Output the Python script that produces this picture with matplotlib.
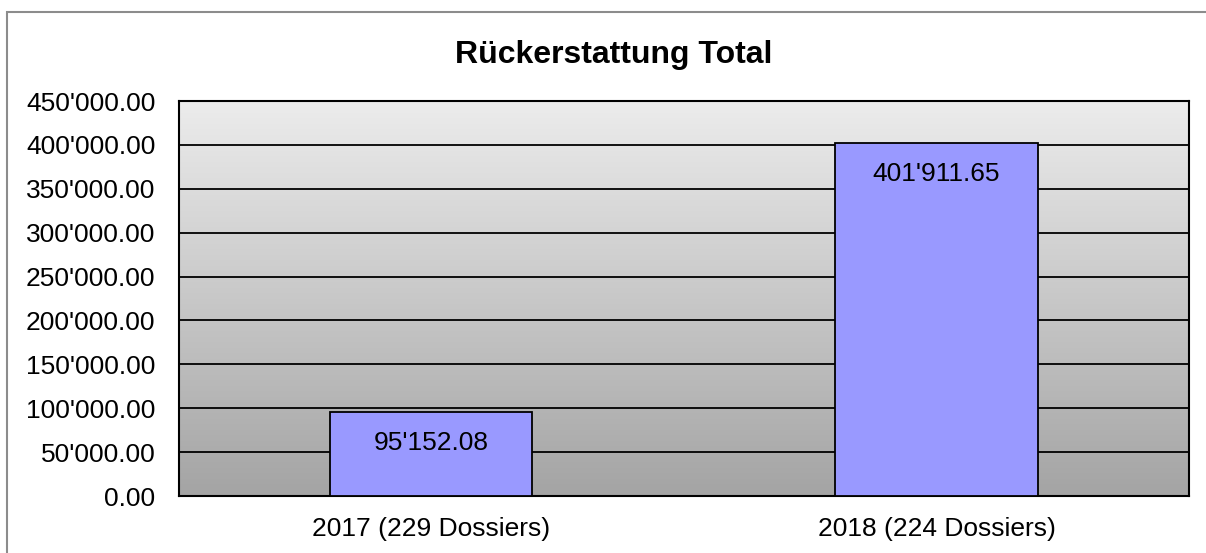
import numpy as np
import matplotlib
matplotlib.use("Agg")
import matplotlib.pyplot as plt
from matplotlib.patches import Rectangle
from matplotlib.ticker import FuncFormatter

plt.rcParams['font.family'] = ['Liberation Sans', 'DejaVu Sans']

categories = ["2017 (229 Dossiers)", "2018 (224 Dossiers)"]
values = [95152.08, 401911.65]
title = "Rückerstattung Total"


def swiss(v, pos=None):
    return f"{v:,.2f}".replace(",", "'")


fig = plt.figure(figsize=(12.06, 5.53), dpi=100)
# outer frame (only top/left visible, runs off the image)
fig.patches.append(Rectangle((7 / 1206, -0.1), 1.2, 1 - 12 / 553 + 0.1,
                             transform=fig.transFigure, fill=False,
                             edgecolor='#8c8c8c', linewidth=1.5))

ax = fig.add_axes([179 / 1206, 1 - 496 / 553, 1010 / 1206, 395 / 553])
ax.set_xlim(-0.5, 1.5)
ax.set_ylim(0, 450000)

# gradient background
grad = np.linspace(0, 1, 256).reshape(-1, 1)
cmap = matplotlib.colors.LinearSegmentedColormap.from_list('bg', ['#a4a4a4', '#ececec'])
ax.imshow(grad, aspect='auto', cmap=cmap, origin='lower',
          extent=(-0.5, 1.5, 0, 450000), zorder=0)

ax.set_yticks(np.arange(0, 450001, 50000))
ax.yaxis.set_major_formatter(FuncFormatter(swiss))
ax.grid(axis='y', color='black', linewidth=1.3, zorder=1)
ax.set_axisbelow(True)

x = np.arange(len(categories))
bars = ax.bar(x, values, width=0.4, color='#9999ff', edgecolor='black',
              linewidth=1.3, zorder=3)
for b, v in zip(bars, values):
    ax.annotate(swiss(v), (b.get_x() + b.get_width() / 2, v),
                xytext=(0, -31), textcoords='offset pixels',
                ha='center', va='center', fontsize=19, zorder=4)

ax.set_xticks(x)
ax.set_xticklabels(categories)
ax.tick_params(axis='both', length=0, labelsize=19, colors='black')
ax.tick_params(axis='y', pad=17)
ax.tick_params(axis='x', pad=15)
for s in ax.spines.values():
    s.set_color('black')
    s.set_linewidth(1.5)

fig.text(614 / 1206, 1 - 55 / 553, title, ha='center', va='center',
         fontsize=23, fontweight='bold')

fig.savefig("out.png", dpi=100)
